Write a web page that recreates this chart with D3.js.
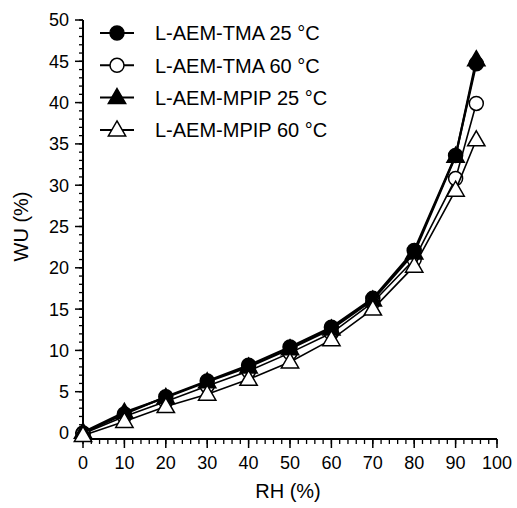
<!DOCTYPE html>
<html lang="en">
<head>
    <meta charset="UTF-8">
    <title>WU vs RH</title>
    <script src="https://cdn.jsdelivr.net/npm/d3@7"></script>
    <style type="text/css">
        body { margin: 0; background: #fff; }
        text { font-family: "Liberation Sans", Arial, sans-serif; fill: #000; }
    </style>
</head>
<body>
<svg id="chart" width="517" height="508"></svg>
<script>
    var rh = [0, 10, 20, 30, 40, 50, 60, 70, 80, 90, 95];
    var tma25 = [0.0, 2.3, 4.4, 6.3, 8.2, 10.4, 12.8, 16.3, 22.1, 33.6, 44.7];
    var tma60 = [-0.1, 2.0, 3.8, 5.7, 7.5, 9.7, 12.1, 15.8, 21.0, 30.8, 39.9];
    var mpip25 = [0.1, 2.5, 4.3, 6.2, 8.0, 10.2, 12.6, 16.1, 21.8, 33.5, 45.2];
    var mpip60 = [-0.3, 1.4, 3.2, 4.7, 6.5, 8.6, 11.3, 15.0, 20.2, 29.4, 35.5];
    var seriesNames = ['L-AEM-TMA 25 \u00B0C', 'L-AEM-TMA 60 \u00B0C', 'L-AEM-MPIP 25 \u00B0C', 'L-AEM-MPIP 60 \u00B0C'];
    var xTicks = [0, 10, 20, 30, 40, 50, 60, 70, 80, 90, 100];
    var yTicks = [0, 5, 10, 15, 20, 25, 30, 35, 40, 45, 50];

    var series = [
        {name: seriesNames[0], values: tma25, shape: 'circle', filled: true},
        {name: seriesNames[1], values: tma60, shape: 'circle', filled: false},
        {name: seriesNames[2], values: mpip25, shape: 'triangle', filled: true},
        {name: seriesNames[3], values: mpip60, shape: 'triangle', filled: false}
    ];

    var svg = d3.select('#chart');
    var x = d3.scaleLinear().domain([0, 100]).range([83, 497]);
    var y = d3.scaleLinear().domain([0, 50]).range([433, 20]);
    var xAxisY = 439;

    // y axis
    var yAxisG = svg.append('g').attr('transform', 'translate(' + x(0) + ',0)');
    yAxisG.append('line')
        .attr('x1', 0).attr('x2', 0)
        .attr('y1', y(50)).attr('y2', xAxisY)
        .attr('stroke', '#000').attr('stroke-width', 2);
    yAxisG.selectAll('.ymin').data(d3.range(0, 51, 1)).enter().append('line')
        .attr('x1', -4).attr('x2', 0)
        .attr('y1', function (d) { return y(d); })
        .attr('y2', function (d) { return y(d); })
        .attr('stroke', '#000').attr('stroke-width', 1.3);
    yAxisG.selectAll('.ymaj').data(yTicks).enter().append('line')
        .attr('x1', -8).attr('x2', 0)
        .attr('y1', function (d) { return y(d); })
        .attr('y2', function (d) { return y(d); })
        .attr('stroke', '#000').attr('stroke-width', 1.5);
    yAxisG.selectAll('.ylab').data(yTicks).enter().append('text')
        .attr('x', -14)
        .attr('y', function (d) { return y(d); })
        .attr('dy', '0.36em')
        .attr('text-anchor', 'end')
        .attr('font-size', 18)
        .text(function (d) { return d; });

    // x axis
    var xAxisG = svg.append('g').attr('transform', 'translate(0,' + xAxisY + ')');
    xAxisG.append('line')
        .attr('x1', x(0)).attr('x2', x(100))
        .attr('y1', 0).attr('y2', 0)
        .attr('stroke', '#000').attr('stroke-width', 2);
    xAxisG.selectAll('.xmin').data(d3.range(0, 101, 2)).enter().append('line')
        .attr('x1', function (d) { return x(d); })
        .attr('x2', function (d) { return x(d); })
        .attr('y1', 0).attr('y2', 5)
        .attr('stroke', '#000').attr('stroke-width', 1.3);
    xAxisG.selectAll('.xmaj').data(xTicks).enter().append('line')
        .attr('x1', function (d) { return x(d); })
        .attr('x2', function (d) { return x(d); })
        .attr('y1', 0).attr('y2', 9)
        .attr('stroke', '#000').attr('stroke-width', 1.5);
    xAxisG.selectAll('.xlab').data(xTicks).enter().append('text')
        .attr('x', function (d) { return x(d); })
        .attr('y', 30)
        .attr('text-anchor', 'middle')
        .attr('font-size', 18)
        .text(function (d) { return d; });

    svg.append('text')
        .attr('x', 288)
        .attr('y', 498)
        .attr('text-anchor', 'middle')
        .attr('font-size', 20)
        .text('RH (%)');

    svg.append('text')
        .attr('transform', 'translate(28,' + y(25) + ')rotate(-90)')
        .attr('text-anchor', 'middle')
        .attr('font-size', 20)
        .text('WU (%)');

    var line = d3.line()
        .x(function (d, i) { return x(rh[i]); })
        .y(function (d) { return y(d); });

    function drawMarker(g, s, cx, cy) {
        var fill = s.filled ? '#000' : '#fff';
        if (s.shape === 'circle') {
            g.append('circle')
                .attr('cx', cx).attr('cy', cy).attr('r', 7)
                .attr('fill', fill).attr('stroke', '#000').attr('stroke-width', 1.5);
        } else {
            g.append('path')
                .attr('d', d3.symbol().type(d3.symbolTriangle).size(130)())
                .attr('transform', 'translate(' + cx + ',' + (cy + 1) + ')')
                .attr('fill', fill).attr('stroke', '#000').attr('stroke-width', 1.5);
        }
    }

    series.forEach(function (s) {
        var g = svg.append('g');
        g.append('path')
            .datum(s.values)
            .attr('fill', 'none')
            .attr('stroke', '#000')
            .attr('stroke-width', s.filled ? 2.2 : 1.6)
            .attr('d', line);
        s.values.forEach(function (v, i) {
            drawMarker(g, s, x(rh[i]), y(v));
        });
    });

    // legend
    var legend = svg.append('g');
    series.forEach(function (s, i) {
        var ly = 33 + i * 32.3;
        legend.append('line')
            .attr('x1', 100).attr('x2', 134)
            .attr('y1', ly).attr('y2', ly)
            .attr('stroke', '#000').attr('stroke-width', 2);
        drawMarker(legend, s, 117, ly);
        legend.append('text')
            .attr('x', 155)
            .attr('y', ly)
            .attr('dy', '0.36em')
            .attr('font-size', 20)
            .text(s.name);
    });
</script>
</body>
</html>
